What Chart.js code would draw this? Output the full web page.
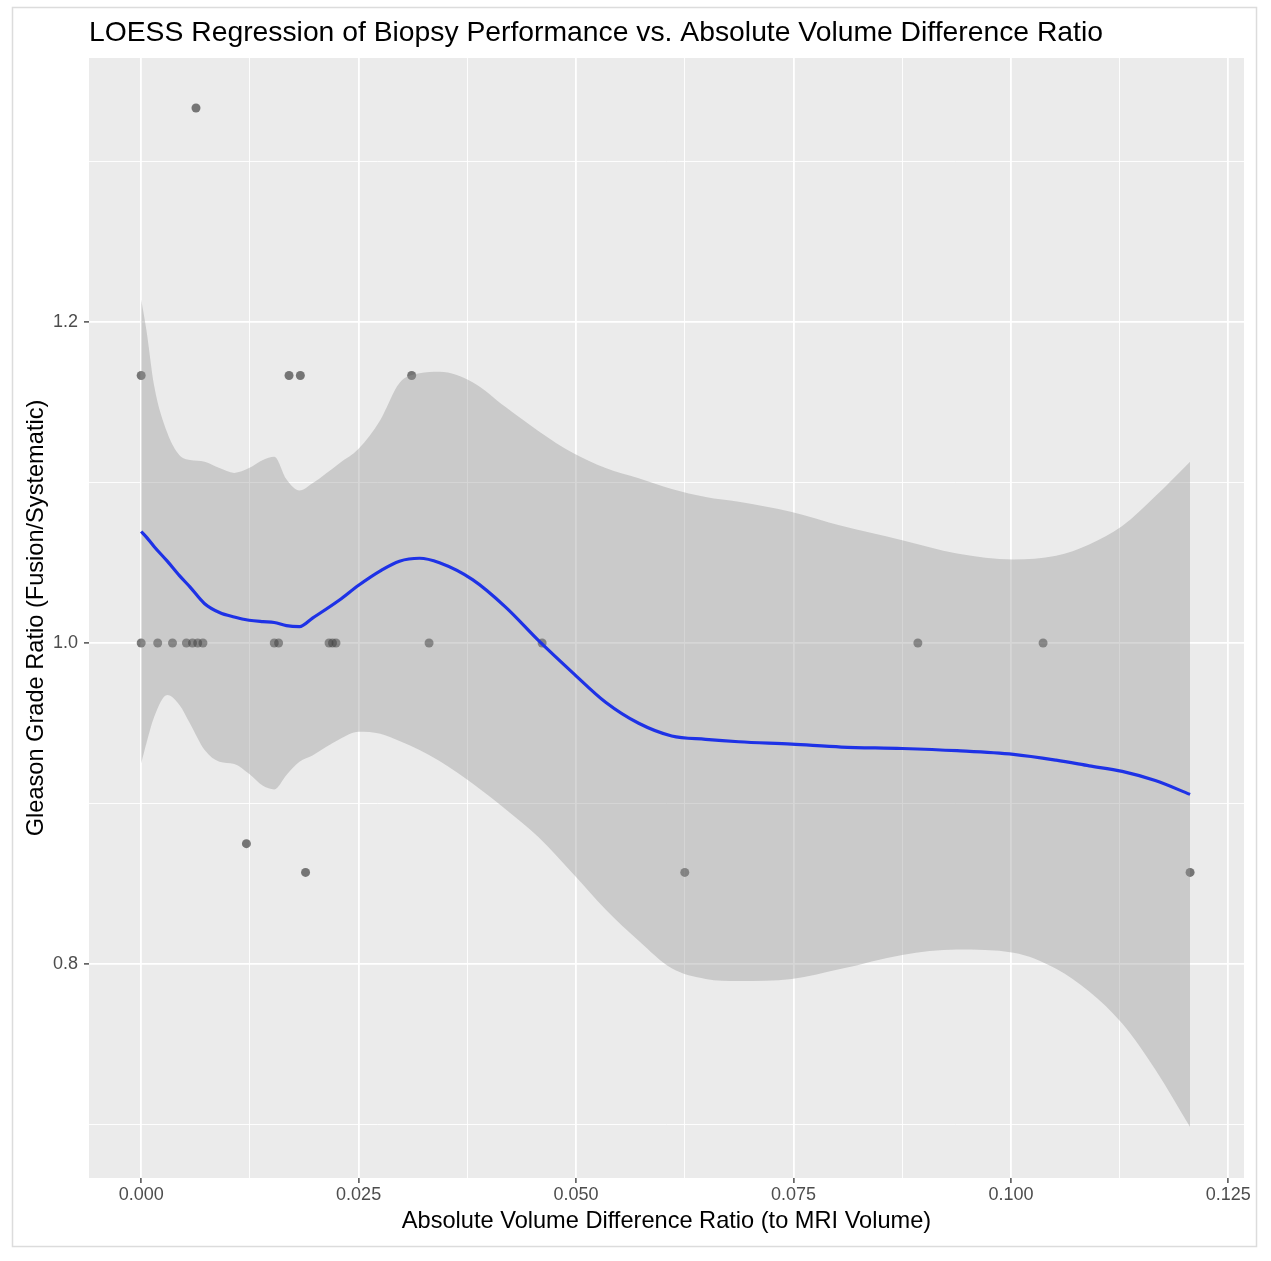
<!DOCTYPE html>
<html>
<head>
<meta charset="utf-8">
<title>LOESS Regression of Biopsy Performance</title>
<script src="https://cdn.jsdelivr.net/npm/chart.js@4.4.1/dist/chart.umd.min.js"></script>
<style>
    html, body { margin: 0; padding: 0; background: #ffffff; }
    #wrap { width: 1271px; height: 1261px; position: relative; }
</style>
</head>
<body>
<div id="wrap"><canvas id="loessChart"></canvas></div>
<script>
// observed biopsy cases
const pointX = [0.0063, 0.0000, 0.0170, 0.0183, 0.0311,
    0.0000, 0.0019, 0.0036, 0.0052, 0.0059, 0.0065, 0.0071, 0.0153, 0.0158,
    0.0216, 0.0220, 0.0224, 0.0331, 0.0461, 0.0893, 0.1037,
    0.0121, 0.0189, 0.0625, 0.1206];
const pointY = [1.3333, 1.1667, 1.1667, 1.1667, 1.1667,
    1.0, 1.0, 1.0, 1.0, 1.0, 1.0, 1.0, 1.0, 1.0,
    1.0, 1.0, 1.0, 1.0, 1.0, 1.0, 1.0,
    0.875, 0.8571, 0.8571, 0.8571];

// loess fit and confidence band
const fitX = [0, 0.0006, 0.0015, 0.003, 0.0044, 0.0056, 0.0073, 0.009, 0.0107, 0.0124,
    0.014, 0.0153, 0.0167, 0.0182, 0.0197, 0.0228, 0.025, 0.0275, 0.0297, 0.032,
    0.0343, 0.0381, 0.0419, 0.0457, 0.0496, 0.0534, 0.0572, 0.061, 0.0649, 0.0687,
    0.0748, 0.0805, 0.0875, 0.0938, 0.1003, 0.1052, 0.109, 0.1128, 0.1166, 0.1206];
const fitY = [1.0695, 1.066, 1.060, 1.051, 1.042, 1.035, 1.0245, 1.019, 1.0162, 1.0142,
    1.0133, 1.0128, 1.0108, 1.0102, 1.0155, 1.0268, 1.036, 1.045, 1.051, 1.0528,
    1.050, 1.0395, 1.0224, 1.0015, 0.9816, 0.9631, 0.950, 0.9421, 0.940, 0.9385,
    0.937, 0.9352, 0.9343, 0.9329, 0.9306, 0.927, 0.9235, 0.920, 0.9143, 0.9057];
const bandUpper = [1.214, 1.195, 1.160, 1.131, 1.117, 1.114, 1.113, 1.109, 1.106, 1.109,
    1.114, 1.116, 1.102, 1.095, 1.0995, 1.112, 1.121, 1.139, 1.162, 1.168,
    1.169, 1.1625, 1.147, 1.132, 1.1185, 1.109, 1.1026, 1.096, 1.091, 1.088,
    1.0816, 1.073, 1.064, 1.0557, 1.052, 1.0543, 1.0614, 1.0729, 1.0914, 1.113];
const bandLower = [0.925, 0.9375, 0.954, 0.9676, 0.9614, 0.950, 0.9333, 0.926, 0.9246, 0.9185,
    0.911, 0.9088, 0.9178, 0.926, 0.930, 0.940, 0.9447, 0.9435, 0.939, 0.9333,
    0.9265, 0.9125, 0.8965, 0.879, 0.8565, 0.834, 0.8145, 0.7973, 0.7907, 0.7894,
    0.7907, 0.797, 0.8057, 0.809, 0.8071, 0.7971, 0.7829, 0.7629, 0.7343, 0.6985];

// axes
const xMajorTicks = [0, 0.025, 0.05, 0.075, 0.1, 0.125];
const xTickLabels = ["0.000", "0.025", "0.050", "0.075", "0.100", "0.125"];
const xMinorTicks = [0.0125, 0.0375, 0.0625, 0.0875, 0.1125];
const yMajorTicks = [0.8, 1.0, 1.2];
const yTickLabels = ["0.8", "1.0", "1.2"];
const yMinorTicks = [0.7, 0.9, 1.1, 1.3];

const FONT = "'Liberation Sans', Arial, Helvetica, sans-serif";

function toPoints(xs, ys) {
    return xs.map((x, i) => ({ x: x, y: ys[i] }));
}

function majorIndex(list, v) {
    return list.findIndex((m) => Math.abs(m - v) < 1e-9);
}

function tickList(major, minor) {
    return major.concat(minor).sort((a, b) => a - b).map((v) => ({ value: v }));
}

// grey panel + thin frame round the figure
const panelBackground = {
    id: "panelBackground",
    beforeDraw(chart) {
        const { ctx, chartArea } = chart;
        ctx.save();
        ctx.fillStyle = "#ffffff";
        ctx.fillRect(0, 0, chart.width, chart.height);
        ctx.strokeStyle = "#dcdcdc";
        ctx.lineWidth = 1.5;
        ctx.strokeRect(12.5, 7.5, 1244, 1239);
        ctx.fillStyle = "#EBEBEB";
        ctx.fillRect(chartArea.left, chartArea.top,
            chartArea.right - chartArea.left, chartArea.bottom - chartArea.top);
        ctx.restore();
    },
};

function gridFor(major) {
    return {
        color: "#ffffff",
        lineWidth: (c) => (c.tick && majorIndex(major, c.tick.value) >= 0 ? 1.8 : 0.9),
        tickColor: (c) => (c.tick && majorIndex(major, c.tick.value) >= 0 ? "#333333" : "rgba(0,0,0,0)"),
        tickLength: 5,
        tickWidth: 1.3,
    };
}

function LoessChart() {
    const ctx = document.getElementById("loessChart");

    new Chart(ctx, {
        type: "scatter",
        data: {
            datasets: [
                {
                    type: "line",
                    label: "LOESS fit",
                    data: toPoints(fitX, fitY),
                    borderColor: "#1E32E6",
                    borderWidth: 3.2,
                    pointRadius: 0,
                    fill: false,
                    cubicInterpolationMode: "monotone",
                    order: 0,
                },
                {
                    type: "line",
                    label: "Upper",
                    data: toPoints(fitX, bandUpper),
                    borderWidth: 0,
                    borderColor: "rgba(0,0,0,0)",
                    backgroundColor: "rgba(153,153,153,0.4)",
                    pointRadius: 0,
                    fill: "+1",
                    cubicInterpolationMode: "monotone",
                    order: 1,
                },
                {
                    type: "line",
                    label: "Lower",
                    data: toPoints(fitX, bandLower),
                    borderWidth: 0,
                    borderColor: "rgba(0,0,0,0)",
                    pointRadius: 0,
                    fill: false,
                    cubicInterpolationMode: "monotone",
                    order: 2,
                },
                {
                    label: "Cases",
                    data: toPoints(pointX, pointY),
                    backgroundColor: "rgba(0,0,0,0.5)",
                    borderWidth: 0,
                    pointRadius: 4.5,
                    order: 3,
                },
            ],
        },
        options: {
            responsive: true,
            maintainAspectRatio: false,
            animation: false,
            layout: {
                padding: { left: 0, right: 27, top: 0, bottom: 0 },
            },
            scales: {
                x: {
                    type: "linear",
                    min: -0.006,
                    max: 0.1268,
                    afterBuildTicks: (scale) => { scale.ticks = tickList(xMajorTicks, xMinorTicks); },
                    afterFit: (scale) => { scale.height = 83; },
                    ticks: {
                        autoSkip: false,
                        maxRotation: 0,
                        padding: 1,
                        color: "#4d4d4d",
                        font: { family: FONT, size: 18 },
                        callback: (v) => {
                            const i = majorIndex(xMajorTicks, v);
                            return i >= 0 ? xTickLabels[i] : "";
                        },
                    },
                    grid: gridFor(xMajorTicks),
                    border: { display: false },
                    title: {
                        display: true,
                        text: "Absolute Volume Difference Ratio (to MRI Volume)",
                        color: "#000000",
                        font: { family: FONT, size: 23.6 },
                        padding: { top: 0, bottom: 25 },
                    },
                },
                y: {
                    type: "linear",
                    min: 0.6667,
                    max: 1.3645,
                    afterBuildTicks: (scale) => { scale.ticks = tickList(yMajorTicks, yMinorTicks); },
                    afterFit: (scale) => { scale.width = 89; },
                    ticks: {
                        autoSkip: false,
                        padding: 6,
                        color: "#4d4d4d",
                        font: { family: FONT, size: 18 },
                        callback: (v) => {
                            const i = majorIndex(yMajorTicks, v);
                            return i >= 0 ? yTickLabels[i] : "";
                        },
                    },
                    grid: gridFor(yMajorTicks),
                    border: { display: false },
                    title: {
                        display: true,
                        text: "Gleason Grade Ratio (Fusion/Systematic)",
                        color: "#000000",
                        font: { family: FONT, size: 23.6 },
                        padding: { top: 22, bottom: 0 },
                    },
                },
            },
            plugins: {
                legend: { display: false },
                tooltip: { enabled: false },
                title: {
                    display: true,
                    text: "LOESS Regression of Biopsy Performance vs. Absolute Volume Difference Ratio",
                    align: "start",
                    fullSize: false,
                    color: "#000000",
                    font: { family: FONT, size: 28.3, weight: "normal" },
                    padding: { top: 16, bottom: 8 },
                },
            },
        },
        plugins: [panelBackground],
    });
}

LoessChart();
</script>
</body>
</html>
